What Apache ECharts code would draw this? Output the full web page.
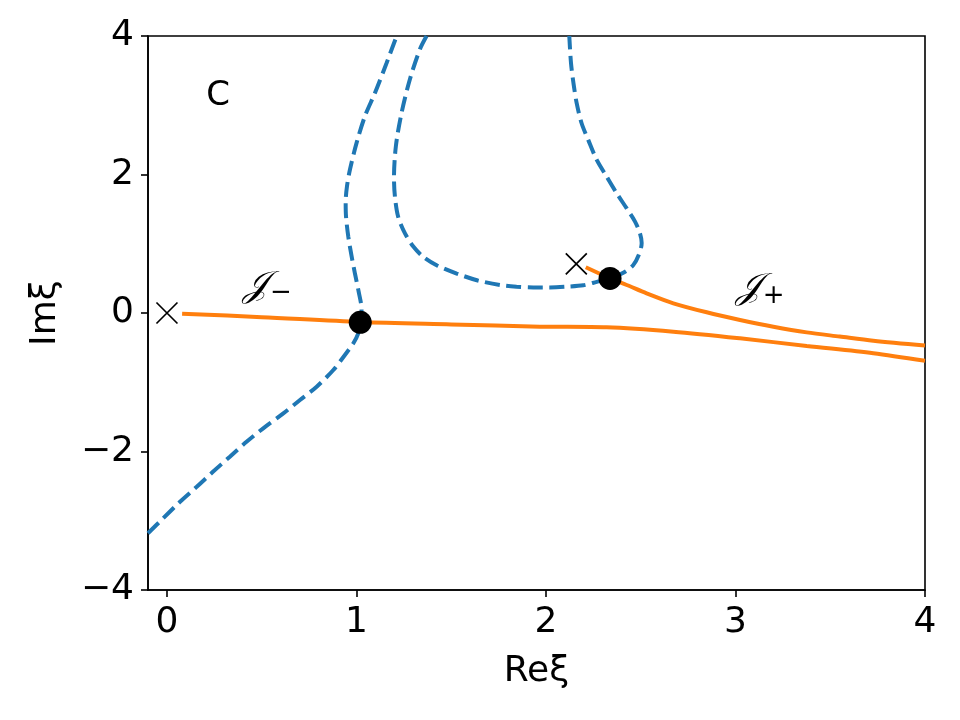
<!DOCTYPE html>
<html>
<head>
<meta charset="utf-8">
<script src="https://cdn.jsdelivr.net/npm/echarts@6/dist/echarts.min.js"></script>
<style>
  html, body { margin: 0; padding: 0; background: #fff; }
  #chart { width: 960px; height: 720px; }
</style>
</head>
<body>
<div id="chart"></div>
<script>
// dashed curves in the xi plane, [Re, Im]
const dashedLeft = [
  [-0.1, -3.18], [-0.02, -2.965], [0.069, -2.725], [0.157, -2.51], [0.244, -2.29],
  [0.332, -2.075], [0.42, -1.86], [0.508, -1.665], [0.614, -1.45], [0.702, -1.256],
  [0.79, -1.064], [0.878, -0.823], [0.939, -0.606], [0.983, -0.44], [1.01, -0.29],
  [1.022, -0.13], [1.027, 0.05], [1.01, 0.33], [0.992, 0.57], [0.975, 0.81],
  [0.957, 1.1], [0.945, 1.39], [0.943, 1.6], [0.95, 1.83], [0.966, 2.075],
  [1.001, 2.46], [1.045, 2.845], [1.098, 3.18], [1.159, 3.61], [1.212, 4.0]
]
const dashedLoop = [
  [1.37, 4.0], [1.335, 3.81], [1.282, 3.375], [1.238, 2.89], [1.208, 2.41],
  [1.198, 1.95], [1.203, 1.68], [1.22, 1.39], [1.256, 1.15],
  [1.3, 0.96], [1.353, 0.81], [1.423, 0.69], [1.529, 0.57], [1.64, 0.47],
  [1.757, 0.404], [1.845, 0.38], [1.933, 0.37], [2.021, 0.37], [2.109, 0.38],
  [2.197, 0.4], [2.268, 0.45], [2.338, 0.5], [2.408, 0.58], [2.46, 0.69],
  [2.49, 0.84], [2.505, 1.01], [2.496, 1.15], [2.47, 1.32], [2.426, 1.51],
  [2.373, 1.73], [2.32, 1.97], [2.268, 2.21], [2.223, 2.5], [2.188, 2.74],
  [2.162, 3.03], [2.145, 3.32], [2.132, 3.61], [2.123, 4.0]
]
// contours J- and J+
const contourMinus = [
  [0.08, -0.01], [0.5, -0.06], [1.02, -0.13], [1.5, -0.165], [1.968, -0.197],
  [2.32, -0.207], [2.672, -0.27], [3.024, -0.366], [3.376, -0.476], [3.727, -0.58],
  [4.0, -0.69]
]
const contourPlus = [
  [2.21, 0.66], [2.338, 0.5], [2.426, 0.404], [2.531, 0.284], [2.672, 0.14],
  [2.848, 0.01], [3.024, -0.1], [3.2, -0.198], [3.376, -0.28], [3.55, -0.34],
  [3.727, -0.4], [4.0, -0.47]
]
const crosses = [[0, 0], [2.16, 0.71]]
const saddles = [[1.02, -0.135], [2.338, 0.5]]
const xTicks = [0, 1, 2, 3, 4]
const notes = [
  { value: [0.27, 3.13], text: 'C' },
  { value: [0.53, 0.38], text: '{j|𝒥}{s|−}' },
  { value: [3.13, 0.35], text: '{j|𝒥}{s|+}' }
]

const FONT = 'DejaVu Sans'
const blue = '#1f77b4'
const orange = '#ff7f0e'

const chart = echarts.init(document.getElementById('chart'))

const dashed = (name, data) => ({
  name, type: 'line', data,
  showSymbol: false, smooth: 0.3, z: 2,
  lineStyle: { color: blue, width: 4, type: [15, 6.5] }
})
const solid = (name, data) => ({
  name, type: 'line', data,
  showSymbol: false, smooth: 0.3, z: 3,
  lineStyle: { color: orange, width: 4 }
})

chart.setOption({
  animation: false,
  textStyle: { fontFamily: FONT },
  grid: {
    left: 148, right: 35, top: 36, bottom: 130,
    show: true, borderColor: '#000', borderWidth: 1.6
  },
  xAxis: {
    type: 'value', min: -0.1, max: 4,
    name: 'Reξ', nameLocation: 'middle', nameGap: 64,
    nameTextStyle: { fontSize: 36, color: '#000', fontFamily: FONT },
    axisLine: { onZero: false, lineStyle: { color: '#000', width: 1.6 } },
    axisTick: { show: true, length: 7, customValues: xTicks, lineStyle: { color: '#000', width: 1.6 } },
    axisLabel: { fontSize: 36, color: '#000', margin: 15, customValues: xTicks, fontFamily: FONT },
    splitLine: { show: false }
  },
  yAxis: {
    type: 'value', min: -4, max: 4, interval: 2,
    name: 'Imξ', nameLocation: 'middle', nameGap: 84, nameRotate: 90,
    nameTextStyle: { fontSize: 36, color: '#000', fontFamily: FONT },
    axisLine: { onZero: false, lineStyle: { color: '#000', width: 1.6 } },
    axisTick: { show: true, length: 7, lineStyle: { color: '#000', width: 1.6 } },
    axisLabel: {
      fontSize: 36, color: '#000', margin: 14, fontFamily: FONT,
      formatter: v => (v < 0 ? '−' + Math.abs(v) : String(v))
    },
    splitLine: { show: false }
  },
  series: [
    dashed('left', dashedLeft),
    dashed('loop', dashedLoop),
    solid('J-', contourMinus),
    solid('J+', contourPlus),
    {
      name: 'poles', type: 'scatter', data: crosses, z: 4,
      symbol: 'path://M0,0L10,10M10,0L0,10', symbolSize: 21,
      itemStyle: { color: 'rgba(0,0,0,0)', borderColor: '#000', borderWidth: 1.7, opacity: 1 }
    },
    {
      name: 'saddles', type: 'scatter', data: saddles, z: 5,
      symbol: 'circle', symbolSize: 23,
      itemStyle: { color: '#000', opacity: 1 }
    },
    {
      name: 'notes', type: 'scatter', symbolSize: 0, z: 6,
      itemStyle: { opacity: 1 },
      data: notes.map(n => ({ value: n.value, text: n.text })),
      label: {
        show: true, position: 'inside', color: '#000',
        fontFamily: FONT, fontSize: 34,
        formatter: p => p.data.text,
        rich: {
          j: { fontSize: 36, fontFamily: 'DejaVu Serif', fontStyle: 'italic', color: '#000' },
          s: { fontSize: 26, color: '#000', verticalAlign: 'bottom', padding: [14, 0, 0, 2] }
        }
      }
    }
  ]
})
</script>
</body>
</html>
